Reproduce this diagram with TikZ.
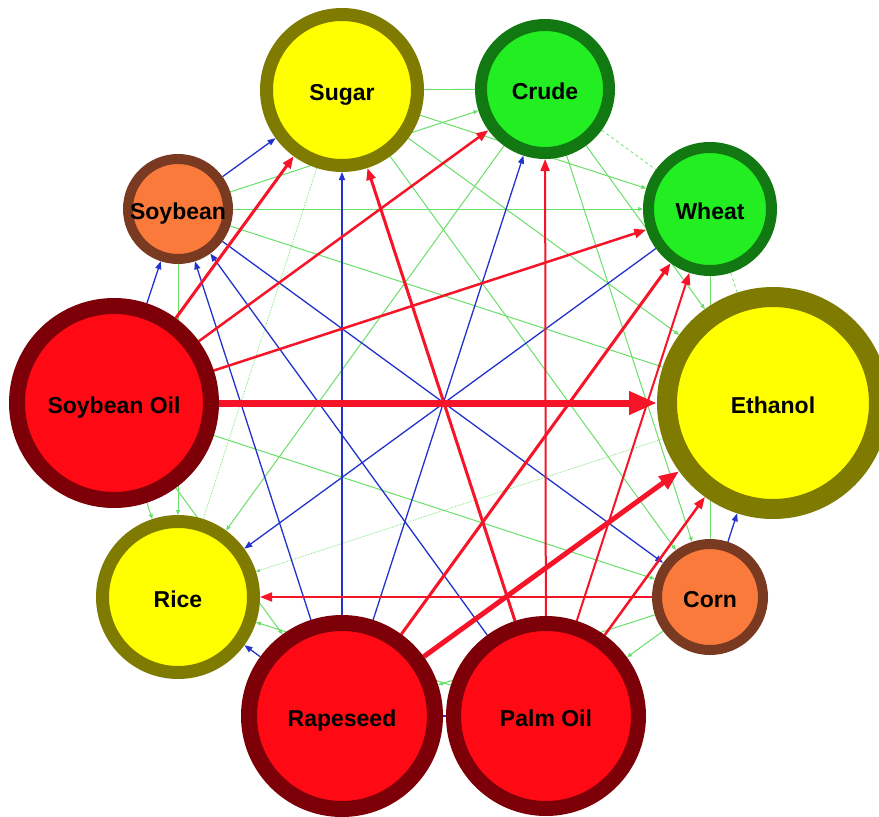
\documentclass[tikz,border=0pt]{standalone}
\usepackage{fontspec}
\setmainfont{Liberation Sans}
\usetikzlibrary{arrows.meta}
\definecolor{redfill}{HTML}{FF0A14}
\definecolor{redbord}{HTML}{7D0008}
\definecolor{yelfill}{HTML}{FFFF00}
\definecolor{yelbord}{HTML}{7F7A00}
\definecolor{grnfill}{HTML}{22EE22}
\definecolor{grnbord}{HTML}{127812}
\definecolor{orfill}{HTML}{FA7A3C}
\definecolor{orbord}{HTML}{7A3A22}
\definecolor{redE}{HTML}{F51428}
\definecolor{bluE}{HTML}{2233CC}
\definecolor{grnE}{HTML}{6ADF6A}
\pgfdeclarelayer{back}
\pgfdeclarelayer{bg}
\pgfsetlayers{back,bg,main}
\tikzset{
  cnode/.style={circle, inner sep=0pt, font=\fontsize{23}{23}\selectfont\bfseries, text=black, text depth=0pt, text height=20.5pt},
  rednode/.style={cnode, fill=redfill, draw=redbord},
  yelnode/.style={cnode, fill=yelfill, draw=yelbord},
  grnnode/.style={cnode, fill=grnfill, draw=grnbord},
  ornode/.style={cnode, fill=orfill, draw=orbord},
  redarr/.style={draw=redE, line width=2.5pt, -{Triangle[length=12pt,width=9pt]}},
  bluarr/.style={draw=bluE, line width=1.3pt, -{Triangle[length=8pt,width=6pt]}},
  bluln/.style={draw=bluE, line width=1.3pt},
  grnarr/.style={draw=grnE, line width=1pt, -{Triangle[length=5pt,width=4pt]}},
  grnln/.style={draw=grnE, line width=0.9pt},
  grndot/.style={draw=grnE, line width=0.7pt, densely dotted},
  grndash/.style={draw=grnE, line width=0.7pt, dashed},
}
\begin{document}
\begin{tikzpicture}[x=1pt,y=-1pt]
\begin{pgfonlayer}{back}
\fill[white] (0,0) rectangle (879,817);
\end{pgfonlayer}
\useasboundingbox (0,0) rectangle (879,817);
% nodes
\node[yelnode, minimum size=212pt, line width=20pt, outer sep=10pt] (E) at (773,403) {Ethanol};
\node[grnnode, minimum size=123pt, line width=11pt, outer sep=5.5pt] (W) at (710,209) {Wheat};
\node[grnnode, minimum size=128pt, line width=12pt, outer sep=6pt] (C) at (545,89) {Crude};
\node[yelnode, minimum size=151pt, line width=13pt, outer sep=6.5pt] (S) at (342,90) {Sugar};
\node[ornode, minimum size=100pt, line width=10pt, outer sep=5pt] (Sb) at (178,209) {Soybean};
\node[rednode, minimum size=194pt, line width=16pt, outer sep=8pt] (SO) at (114,403) {Soybean Oil};
\node[yelnode, minimum size=151pt, line width=13pt, outer sep=6.5pt] (R) at (178,597) {Rice};
\node[rednode, minimum size=186pt, line width=16pt, outer sep=8pt] (Rp) at (342,716) {Rapeseed};
\node[rednode, minimum size=185pt, line width=15pt, outer sep=7.5pt] (P) at (546,716) {Palm Oil};
\node[ornode, minimum size=106pt, line width=10pt, outer sep=5pt] (Cn) at (710,597) {Corn};
\begin{pgfonlayer}{bg}
% green
\draw[grnln] (S) -- (C);
\draw[grnarr] (Sb) -- (C);
\draw[grnarr] (Sb) -- (W);
\draw[grnarr] (Sb) -- (E);
\draw[grnarr] (Sb) -- (R);
\draw[grnarr] (SO) -- (R);
\draw[grndot] (S) -- (R);
\draw[grndash] (C) -- (W);
\draw[grndash] (W) -- (E);
\draw[grnln] (W) -- (Cn);
\draw[grnarr] (C) -- (E);
\draw[grnarr] (C) -- (Cn);
\draw[grnarr] (C) -- (R);
\draw[grnarr] (S) -- (W);
\draw[grnarr] (S) -- (E);
\draw[grnarr] (S) -- (Cn);
\draw[grnarr] (SO) -- (Cn);
\draw[grndot, -{Triangle[length=4pt,width=3pt]}] (E) -- (R);
\draw[grnarr] (P) -- (R);
\draw[grnarr] (Cn) -- (Rp);
\draw[grnarr] (Cn) -- (P);
\draw[grnarr] (SO) -- (Rp);
% blue
\draw[bluarr] (Sb) -- (S);
\draw[bluarr] (SO) -- (Sb);
\draw[bluarr] (Rp) -- (Sb);
\draw[bluarr] (P) -- (Sb);
\draw[bluarr] (Sb) -- (Cn);
\draw[bluarr] (Rp) -- (S);
\draw[bluarr] (Rp) -- (C);
\draw[bluarr] (W) -- (R);
\draw[bluarr] (Rp) -- (R);
\draw[bluarr] (Cn) -- (E);
\draw[bluln] (P) -- (Rp);
% red
\draw[redarr, line width=2pt] (Cn) -- (R);
\draw[redarr] (P) -- (E);
\draw[redarr, line width=3pt] (SO) -- (S);
\draw[redarr] (SO) -- (C);
\draw[redarr] (SO) -- (W);
\draw[redarr, line width=3pt] (P) -- (S);
\draw[redarr, line width=2pt] (P) -- (C);
\draw[redarr, line width=3pt] (Rp) -- (W);
\draw[redarr, line width=2pt] (P) -- (W);
\draw[redarr, line width=5pt, -{Triangle[length=20pt,width=15pt]}] (Rp) -- (E);
\draw[redarr, line width=7pt, -{Triangle[length=28pt,width=22pt]}] (SO) -- (E);
\end{pgfonlayer}
\end{tikzpicture}
\end{document}
